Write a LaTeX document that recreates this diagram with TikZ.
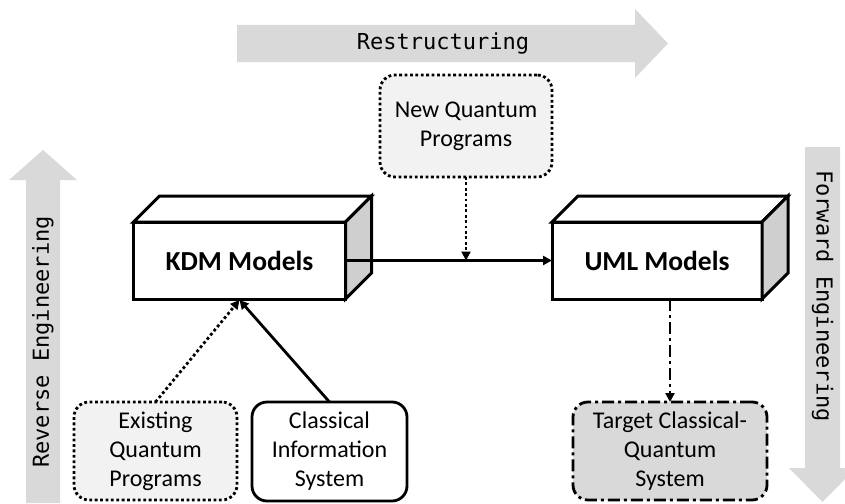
\documentclass[tikz,border=0pt]{standalone}
\usepackage{fontspec}
\setmainfont{Carlito}
\setmonofont{DejaVu Sans Mono}
\usetikzlibrary{arrows.meta,calc}
\definecolor{arrowgray}{HTML}{D9D9D9}
\definecolor{lightfill}{HTML}{F2F2F2}
\definecolor{sidegray}{HTML}{CFCFCF}
\definecolor{targetfill}{HTML}{D9D9D9}
\newcommand\drawcubefaces[1]{%
  \draw[cubeline,fill=white] (#1.north west) -- ++(26,-26) -- ($(#1.north east)+(26,-26)$) -- (#1.north east) -- cycle;
  \draw[cubeline,fill=sidegray] (#1.north east) -- ++(26,-26) -- ($(#1.south east)+(26,-26)$) -- (#1.south east) -- cycle;}
\begin{document}
\begin{tikzpicture}[x=1pt,y=-1pt,
  cubefront/.style={draw,line width=3pt,fill=white,minimum width=212pt,minimum height=77pt,inner sep=0pt,outer sep=0pt,font=\fontsize{27.5}{32}\selectfont\bfseries},
  cubeline/.style={line width=3pt,line join=miter},
  roundbox/.style={draw,line width=2.8pt,rounded corners=15pt,align=center,inner sep=0pt,outer sep=0pt,font=\fontsize{24}{29}\selectfont},
  conn/.style={line width=2.8pt,-{Triangle[length=9pt,width=9pt]}},
  dotline/.style={dash pattern=on 2.8pt off 2.6pt},
  dashdotline/.style={dash pattern=on 12pt off 4pt on 3pt off 4pt},
  bigarrow/.style={fill=arrowgray,draw=none},
  arrowlabel/.style={font=\ttfamily\fontsize{22}{26}\selectfont,inner sep=0pt}
]
\useasboundingbox (0,0) rectangle (845,503);
\begin{scope}
\clip (0,0) rectangle (845,503);
% big gray arrows
\fill[bigarrow] (237,25) -- (635,25) -- (635,9) -- (668,43.5) -- (635,78) -- (635,62) -- (237,62) -- cycle;
\fill[bigarrow] (26,503) -- (26,180) -- (9,180) -- (43,150) -- (77,180) -- (60,180) -- (60,503) -- cycle;
\fill[bigarrow] (805,147) -- (840,147) -- (840,468) -- (856,468) -- (822.5,502) -- (789,468) -- (805,468) -- cycle;
\end{scope}
\node[arrowlabel] (restr) at (443,43.5) {Restructuring};
\node[arrowlabel,rotate=90] (rev) at (43,342) {Reverse Engineering};
\node[arrowlabel,rotate=-90] (fwd) at (822.5,296) {Forward Engineering};

% cubes
\node[cubefront] (kdm) at (239.5,260.5) {KDM Models};
\drawcubefaces{kdm}
\node[cubefront,minimum width=210pt] (uml) at (657,260.5) {UML Models};
\drawcubefaces{uml}

% rounded boxes
\node[roundbox,dotline,fill=lightfill,minimum width=172pt,minimum height=102pt] (newq) at (466,126) {New Quantum\\Programs};
\node[roundbox,dotline,fill=lightfill,minimum width=163pt,minimum height=98pt] (exist) at (155.5,451) {Existing\\Quantum\\Programs};
\node[roundbox,fill=white,minimum width=155pt,minimum height=99pt] (classic) at (329.5,451.5) {Classical\\Information\\System};
\node[roundbox,dashdotline,fill=targetfill,minimum width=194pt,minimum height=98pt] (target) at (670,451) {Target Classical-\\Quantum\\System};

% connectors
\draw[conn] (kdm.east) -- (uml.west);
\coordinate (join) at (newq.south |- kdm.east);
\draw[conn,dotline] (newq.south) -- (join);
\coordinate (kdmin) at ($(kdm.south)+(0,1)$);
\draw[conn,dotline] (exist.north) -- (kdmin);
\draw[conn] (classic.north) -- (kdmin);
\coordinate (umlout) at (target.north |- uml.south);
\draw[conn,dashdotline] (umlout) -- (target.north);
\end{tikzpicture}
\end{document}
